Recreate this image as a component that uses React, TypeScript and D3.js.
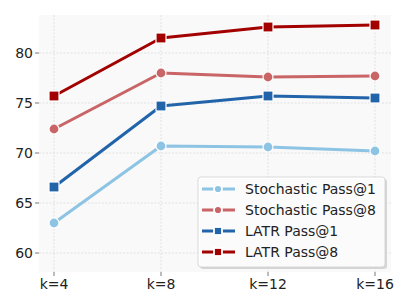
import React from 'react';
import * as d3 from 'd3';

const categories = ['k=4', 'k=8', 'k=12', 'k=16'];
const yTicks = [60, 65, 70, 75, 80];

const stochasticPass1 = [63.0, 70.7, 70.6, 70.2];
const stochasticPass8 = [72.4, 78.0, 77.6, 77.7];
const latrPass1 = [66.6, 74.7, 75.7, 75.5];
const latrPass8 = [75.7, 81.5, 82.6, 82.8];

const series = [
  { name: 'Stochastic Pass@1', values: stochasticPass1, color: '#8dc4e4', marker: 'circle' },
  { name: 'Stochastic Pass@8', values: stochasticPass8, color: '#c96566', marker: 'circle' },
  { name: 'LATR Pass@1', values: latrPass1, color: '#2264a9', marker: 'square' },
  { name: 'LATR Pass@8', values: latrPass8, color: '#a30000', marker: 'square' },
];

const dim = { width: 411, height: 308, left: 39, right: 391, top: 15, bottom: 272 };
const font = 'DejaVu Sans, sans-serif';

const App = () => {
  const x = d3.scalePoint<string>().domain(categories).range([54, 375]);
  const y = d3.scaleLinear().domain([58.1, 83.8]).range([dim.bottom, dim.top]);
  const line = d3
    .line<number>()
    .x((_, i) => x(categories[i]) as number)
    .y((v) => y(v));

  const marker = (kind: string, cx: number, cy: number, color: string, s = 1) =>
    kind === 'circle' ? (
      <circle cx={cx} cy={cy} r={5 * s} fill={color} stroke="#fff" strokeWidth={1.2} />
    ) : (
      <rect x={cx - 5 * s} y={cy - 5 * s} width={10 * s} height={10 * s} fill={color} stroke="#fff" strokeWidth={1.2} />
    );

  const lg = { x: 198, y: 177, w: 187, h: 90 };

  return (
    <svg
      width={dim.width}
      height={dim.height}
      style={{ position: 'absolute', left: 0, top: 0, background: '#fff' }}
      fontFamily={font}
    >
      <rect x={dim.left} y={dim.top} width={dim.right - dim.left} height={dim.bottom - dim.top} fill="#f9f9f9" />
      {yTicks.map((t) => (
        <g key={t}>
          <line x1={dim.left} x2={dim.right} y1={y(t)} y2={y(t)} stroke="#dcdcdc" strokeWidth={0.8} strokeDasharray="2,1.5" />
          <line x1={dim.left - 4} x2={dim.left} y1={y(t)} y2={y(t)} stroke="#555" strokeWidth={0.8} />
          <text x={dim.left - 6} y={y(t)} dy="0.35em" textAnchor="end" fontSize={14} fill="#222">
            {t}
          </text>
        </g>
      ))}
      {categories.map((c) => (
        <g key={c}>
          <line x1={x(c)} x2={x(c)} y1={dim.top} y2={dim.bottom} stroke="#dcdcdc" strokeWidth={0.8} strokeDasharray="2,1.5" />
          <line x1={x(c)} x2={x(c)} y1={dim.bottom} y2={dim.bottom + 4} stroke="#555" strokeWidth={0.8} />
          <text x={x(c)} y={dim.bottom + 17} textAnchor="middle" fontSize={14} fill="#222">
            {c}
          </text>
        </g>
      ))}
      {series.map((s) => (
        <g key={s.name}>
          <path d={line(s.values) ?? ''} fill="none" stroke={s.color} strokeWidth={3} strokeLinejoin="round" />
          {s.values.map((v, i) => (
            <g key={i}>{marker(s.marker, x(categories[i]) as number, y(v), s.color)}</g>
          ))}
        </g>
      ))}
      <rect x={lg.x + 2} y={lg.y + 2} width={lg.w} height={lg.h} rx={3} fill="#c8c8c8" opacity={0.7} />
      <rect x={lg.x} y={lg.y} width={lg.w} height={lg.h} rx={3} fill="#fff" fillOpacity={0.9} stroke="#d0d0d0" strokeWidth={0.8} />
      {series.map((s, i) => {
        const ly = lg.y + 12 + i * 21;
        return (
          <g key={s.name}>
            <line x1={lg.x + 4} x2={lg.x + 37} y1={ly} y2={ly} stroke={s.color} strokeWidth={3} />
            <g>
              {s.marker === 'circle' ? (
                <circle cx={lg.x + 20} cy={ly} r={4} fill={s.color} stroke="#fff" strokeWidth={1.8} />
              ) : (
                <rect x={lg.x + 16} y={ly - 4} width={8} height={8} fill={s.color} stroke="#fff" strokeWidth={1.8} />
              )}
            </g>
            <text x={lg.x + 47} y={ly} dy="0.35em" fontSize={14} fill="#222">
              {s.name}
            </text>
          </g>
        );
      })}
    </svg>
  );
};

export default App;
